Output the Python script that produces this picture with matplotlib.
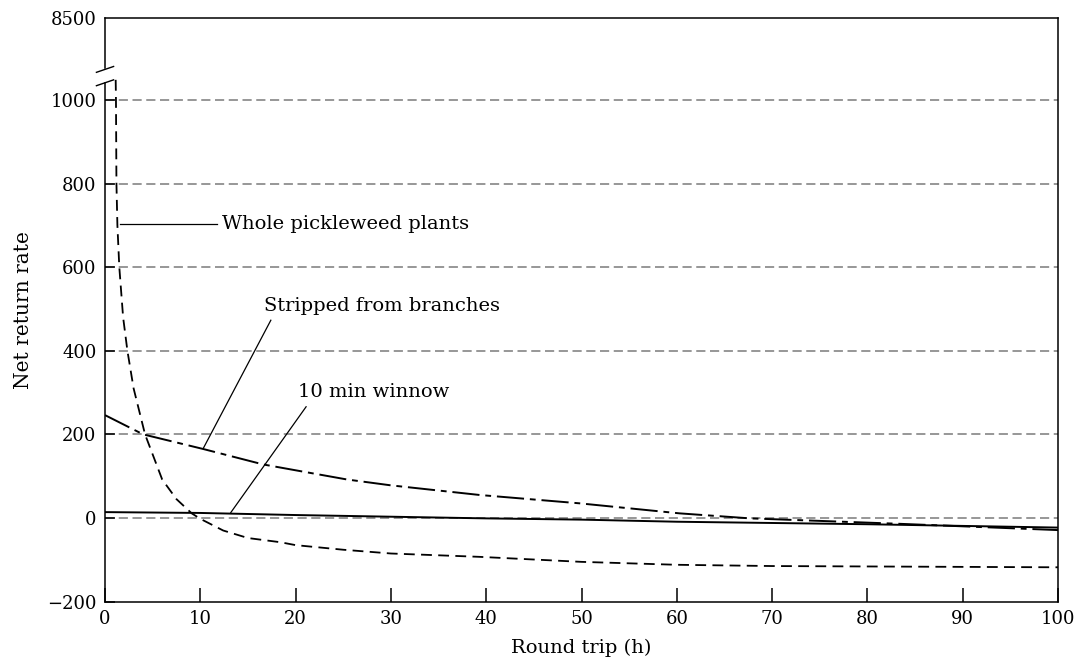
import matplotlib
matplotlib.use("Agg")
import matplotlib.pyplot as plt
import matplotlib.transforms as mtransforms

plt.rcParams['font.family'] = ['DejaVu Serif']

# Data
whole_x = [1.12, 1.15, 1.2, 1.3, 1.5, 1.9, 2.35, 3.0, 4.2, 6.0, 7.5, 9.1, 10.0,
           12.4, 15, 18.4, 20, 25, 30, 39.3, 50, 60, 70, 80, 90, 100]
whole_y = [1048, 1000, 800, 700, 600, 480, 400, 310, 200, 92, 45, 11, -2,
           -30, -48, -58, -65, -76, -85, -93, -105, -112, -115, -116, -117, -118]

stripped_x = [0, 4, 10.3, 16.6, 20.5, 25.4, 30, 39.3, 49.8, 60.3, 67.7, 75, 83.4, 90, 100]
stripped_y = [246, 200, 165, 128, 112, 92, 78, 55, 35, 11, -1, -7, -14, -20, -29]

winnow_x = [0, 10, 20, 30, 40, 50, 60, 70, 80, 90, 100]
winnow_y = [14, 12, 7, 3, -1, -4, -9, -12, -15, -19, -23]

y_ticks = [-200, 0, 200, 400, 600, 800, 1000]
y_top = 1196
y_top_label = "8500"
x_ticks = [0, 10, 20, 30, 40, 50, 60, 70, 80, 90, 100]

fig = plt.figure(figsize=(10.77, 6.61), dpi=100)
ax = fig.add_axes([0.0975, 0.0899, 0.8849, 0.8829])

for yv in y_ticks[1:]:
    ax.axhline(yv, color='#7a7a7a', lw=1.1, linestyle=(0, (6, 3)), zorder=1)

ax.plot(whole_x, whole_y, color='black', lw=1.3, linestyle=(0, (6, 3.5)), zorder=3)
ax.plot(stripped_x, stripped_y, color='black', lw=1.4, linestyle=(0, (14, 3, 3, 3)), zorder=3)
ax.plot(winnow_x, winnow_y, color='black', lw=1.4, linestyle='-', zorder=3)

ax.set_xlim(0, 100)
ax.set_ylim(-200, y_top)
ax.set_xticks(x_ticks)
ax.set_yticks(y_ticks + [y_top])
ax.set_yticklabels([("\u2212" + str(-v)) if v < 0 else str(v) for v in y_ticks] + [y_top_label])

ax.tick_params(axis='x', direction='in', length=10, width=1.1, labelsize=13, pad=6)
ax.tick_params(axis='y', direction='in', length=7, width=1.1, labelsize=13, pad=6)
ax.tick_params(top=False, right=False)
ax.yaxis.get_major_ticks()[-1].tick1line.set_visible(False)

for s in ax.spines.values():
    s.set_linewidth(1.1)

# Axis break on left spine
ax.spines['left'].set_bounds(-200, 1041)
trans = mtransforms.blended_transform_factory(ax.transAxes, ax.transData)
ax.plot([0, 0], [1077, y_top], color='black', lw=1.1, transform=trans, clip_on=False, zorder=5)
ax.plot([-0.009, 0.009], [1066, 1080], color='black', lw=1.0, transform=trans, clip_on=False, zorder=5)
ax.plot([-0.009, 0.009], [1034, 1048], color='black', lw=1.0, transform=trans, clip_on=False, zorder=5)

# Annotations
ax.plot([1.57, 11.8], [704, 704], color='black', lw=0.9, zorder=4)
ax.text(12.3, 704, "Whole pickleweed plants", fontsize=14, va='center', ha='left')

ax.plot([17.4, 10.3], [473, 166], color='black', lw=0.9, zorder=4)
ax.text(16.7, 508, "Stripped from branches", fontsize=14, va='center', ha='left')

ax.plot([21.1, 13.2], [266, 13], color='black', lw=0.9, zorder=4)
ax.text(20.3, 301, "10 min winnow", fontsize=14, va='center', ha='left')

ax.set_xlabel("Round trip (h)", fontsize=14, labelpad=7.5)
ax.set_ylabel("Net return rate", fontsize=14.5, labelpad=10.5)

fig.savefig("out.png", dpi=100)
